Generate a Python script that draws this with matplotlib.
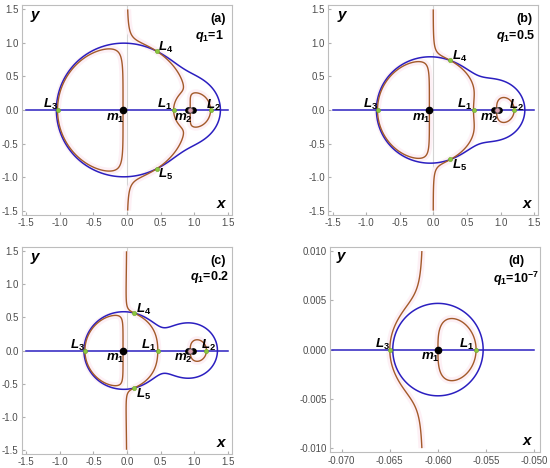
import numpy as np
import matplotlib.pyplot as plt

plt.rcParams['font.family'] = ['Liberation Sans', 'DejaVu Sans']
plt.rcParams['mathtext.fontset'] = 'custom'
plt.rcParams['mathtext.it'] = 'Liberation Sans:italic:bold'
plt.rcParams['mathtext.rm'] = 'Liberation Sans:bold'
plt.rcParams['mathtext.bf'] = 'Liberation Sans:bold'
plt.rcParams['axes.unicode_minus'] = False

# model parameters (mass ratio, mean motion squared) and radiation factors
mu = 0.06
n2 = 0.972
q1_values = [1.0, 0.5, 0.2, 1e-7]
panel_tags = ['(a)', '(b)', '(c)', '(d)']
q1_texts = [r'$q_1$=1', r'$q_1$=0.5', r'$q_1$=0.2', r'$q_1$=10$^{-7}$']

# plotted domain of each panel
x_domains = [(-1.5, 1.5), (-1.5, 1.5), (-1.5, 1.5), (-0.071, -0.05)]
y_domains = [(-1.5, 1.5), (-1.5, 1.5), (-1.5, 1.5), (-0.01, 0.01)]
x_ticks = [[-1.5, -1.0, -0.5, 0.0, 0.5, 1.0, 1.5]] * 3 + [[-0.070, -0.065, -0.060, -0.055, -0.050]]
y_ticks = [[-1.5, -1.0, -0.5, 0.0, 0.5, 1.0, 1.5]] * 3 + [[-0.010, -0.005, 0.000, 0.005, 0.010]]
tick_fmt = ['%.1f', '%.1f', '%.1f', '%.3f']
m2_side_dots = [-0.04, 0.04]

blue = '#2b1fc0'
brown = '#a35a2a'
green = '#8cc63f'


def radii(x, y):
    r1 = np.sqrt((x + mu) ** 2 + y ** 2)
    r2 = np.sqrt((x - 1 + mu) ** 2 + y ** 2)
    return r1, r2


def omega_x(x, y, q1):
    r1, r2 = radii(x, y)
    return n2 * x - q1 * (1 - mu) * (x + mu) / r1 ** 3 - mu * (x - 1 + mu) / r2 ** 3


def omega_y_factor(x, y, q1):
    r1, r2 = radii(x, y)
    return n2 - q1 * (1 - mu) / r1 ** 3 - mu / r2 ** 3


def axis_root(lo, hi, q1):
    flo = omega_x(lo, 0.0, q1)
    for _ in range(100):
        mid = 0.5 * (lo + hi)
        fm = omega_x(mid, 0.0, q1)
        if np.sign(fm) == np.sign(flo):
            lo, flo = mid, fm
        else:
            hi = mid
    return 0.5 * (lo + hi)


fig = plt.figure(figsize=(5.5, 4.68), dpi=100)
boxes = [[0.040, 0.541, 0.382, 0.448],
         [0.597, 0.541, 0.382, 0.448],
         [0.040, 0.030, 0.382, 0.442],
         [0.600, 0.034, 0.382, 0.438]]

for k in range(4):
    ax = fig.add_axes(boxes[k])
    q1 = q1_values[k]
    x0, x1 = x_domains[k]
    y0, y1 = y_domains[k]
    sx = x1 - x0
    sy = y1 - y0
    small = k == 3

    gx = np.linspace(x0, x1, 1100)
    gy = np.linspace(y0, y1, 1100)
    X, Y = np.meshgrid(gx, gy)
    with np.errstate(all='ignore'):
        FX = omega_x(X, Y, q1)
        FY = omega_y_factor(X, Y, q1)

    if not small:
        ax.axvline(0, color='#d4d4d4', lw=0.8, zorder=0)

    # faint pink halo + curves
    ax.contour(X, Y, FX, levels=[0], colors='#fdf0f5', linewidths=5, zorder=1)
    ax.plot([x0, x1], [0, 0], color=blue, lw=1.1, zorder=2)
    ax.contour(X, Y, FY, levels=[0], colors=blue, linewidths=1.1, zorder=2)
    ax.contour(X, Y, FX, levels=[0], colors=brown, linewidths=1.0, zorder=3)

    # equilibrium points on the axis
    eps = 1e-9
    L3 = axis_root(x0, -mu - eps, q1)
    L1 = axis_root(-mu + eps, x1 if small else 1 - mu - eps, q1)
    pts = {'L_3': (L3, 0.0), 'L_1': (L1, 0.0)}
    if not small:
        L2 = axis_root(1 - mu + eps, x1, q1)
        pts['L_2'] = (L2, 0.0)
    # triangular points
    r1 = (q1 / n2) ** (1 / 3)
    r2 = n2 ** (-1 / 3)
    xt = -mu + (r1 ** 2 - r2 ** 2 + 1) / 2
    yt2 = r1 ** 2 - (xt + mu) ** 2
    if yt2 > 0:
        pts['L_4'] = (xt, np.sqrt(yt2))
        pts['L_5'] = (xt, -np.sqrt(yt2))

    label_off = {'L_3': (-0.035, 0.027), 'L_1': (-0.045, 0.027), 'L_2': (0.012, 0.024),
                 'L_4': (0.045, 0.02), 'L_5': (0.045, -0.03)}
    for name, (px, py) in pts.items():
        ax.plot(px, py, 'o', color=green, ms=3.0, mec='#6aa82a', mew=0.4, zorder=5)
        dx, dy = label_off[name]
        ax.text(px + dx * sx, py + dy * sy, '$' + name + '$', fontsize=9.5,
                ha='center', va='center', zorder=6)

    # primaries
    ax.plot(-mu, 0, 'o', color='black', ms=4.5, zorder=6)
    ax.text(-mu - 0.04 * sx, -0.042 * sy, '$m_1$', fontsize=9.5, ha='center', va='center', zorder=6)
    if not small:
        for d in m2_side_dots:
            ax.plot(1 - mu + d, 0, 'o', color='black', ms=3.8, zorder=6)
        ax.plot(1 - mu, 0, 'o', color='#d9a0b0', mec='#333333', mew=0.5, ms=3.8, zorder=6)
        ax.text(1 - mu - 0.035 * sx, -0.042 * sy, '$m_2$', fontsize=9.5, ha='center', va='center', zorder=6)

    # panel annotations
    ax.text(x0 + 0.05 * sx, y1 - 0.035 * sy, '$y$', fontsize=11, ha='center', va='center')
    ax.text(x1 - 0.03 * sx, y0 + 0.035 * sy, '$x$', fontsize=11, ha='center', va='center')
    tx = x1 - 0.05 * sx if not small else x1 - 0.09 * sx
    ax.text(tx, y1 - 0.05 * sy, panel_tags[k], fontsize=9, fontweight='bold', ha='center', va='center')
    ax.text(tx - 0.04 * sx if not small else tx, y1 - 0.13 * sy if not small else y1 - 0.14 * sy,
            q1_texts[k], fontsize=9, fontweight='bold', ha='center', va='center')

    pad_x = 0.021 * sx
    pad_y = 0.021 * sy
    if small:
        ax.set_xlim(-0.0712, -0.0494)
        ax.set_ylim(-0.0104, 0.0104)
    else:
        ax.set_xlim(x0 - pad_x, x1 + pad_x)
        ax.set_ylim(y0 - pad_y, y1 + pad_y)
    ax.set_xticks(x_ticks[k])
    ax.set_yticks(y_ticks[k])
    ax.set_xticklabels([tick_fmt[k] % v for v in x_ticks[k]])
    ax.set_yticklabels([tick_fmt[k] % v for v in y_ticks[k]])
    ax.tick_params(labelsize=7, labelcolor='#4d4d4d', color='#b0b0b0', length=2,
                   direction='in', pad=2.5)
    for s in ax.spines.values():
        s.set_color('#bdbdbd')
        s.set_linewidth(0.8)

fig.savefig('out.png', dpi=100)
